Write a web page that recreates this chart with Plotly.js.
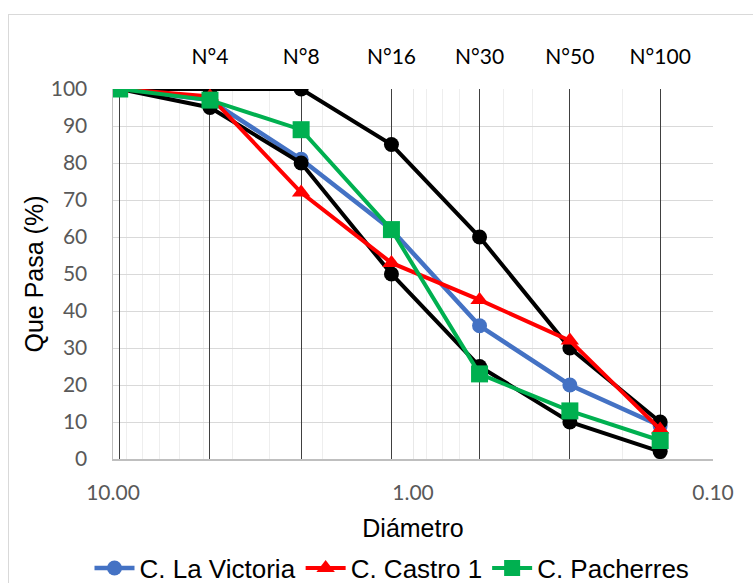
<!DOCTYPE html>
<html>
<head>
<meta charset="utf-8">
<script src="https://cdn.plot.ly/plotly-3.0.1.min.js"></script>
<style>
  html, body { margin: 0; padding: 0; background: #ffffff; }
  #wrap { position: relative; width: 753px; height: 583px; overflow: hidden; }
  #frame { position: absolute; left: 8px; top: 14px; width: 800px; height: 620px; border: 1px solid #d9d9d9; box-sizing: border-box; pointer-events: none; }
  #chart { position: absolute; left: 0; top: 0; width: 753px; height: 583px; }
</style>
</head>
<body>
<div id="wrap">
  <div id="chart"></div>
  <div id="frame"></div>
</div>
<script>
// Sieve openings (mm) and labels
var sieveSizes = [9.5, 4.75, 2.36, 1.18, 0.6, 0.3, 0.15];
var sieveLabels = ['', 'N°4', 'N°8', 'N°16', 'N°30', 'N°50', 'N°100'];

// Gradation limits (black curves)
var upperLimit = [100, 100, 100, 85, 60, 30, 10];
var lowerLimit = [100, 95, 80, 50, 25, 10, 2];

// Quarries
var laVictoria = [100, 97, 81, 62, 36, 20, 9];
var castro1 = [100, 98, 72, 53, 43, 32, 8];
var pacherres = [100, 97, 89, 62, 23, 13, 5];

// Bottom axis tick labels
var diamTicks = [10, 1, 0.1];
var diamTickText = diamTicks.map(function (v) { return v.toFixed(2); });

var minorVals = [];
[0.1, 1].forEach(function (d) { for (var k = 2; k <= 9; k++) minorVals.push(+(k * d).toFixed(3)); });

var traces = [
  {
    x: sieveSizes, y: laVictoria, name: 'C. La Victoria', type: 'scatter', mode: 'lines+markers',
    line: { color: '#4472C4', width: 4.5 },
    marker: { symbol: 'circle', size: 15, color: '#4472C4' }
  },
  {
    x: sieveSizes, y: upperLimit, name: 'Límite superior', type: 'scatter', mode: 'lines+markers',
    showlegend: false,
    line: { color: '#000000', width: 4 },
    marker: { symbol: 'circle', size: 15, color: '#000000' }
  },
  {
    x: sieveSizes, y: lowerLimit, name: 'Límite inferior', type: 'scatter', mode: 'lines+markers',
    showlegend: false,
    line: { color: '#000000', width: 4 },
    marker: { symbol: 'circle', size: 15, color: '#000000' }
  },
  {
    x: sieveSizes, y: castro1, name: 'C. Castro 1', type: 'scatter', mode: 'lines+markers',
    line: { color: '#FF0000', width: 4 },
    marker: { symbol: 'triangle-up', size: 16, color: '#FF0000' }
  },
  {
    x: sieveSizes, y: pacherres, name: 'C. Pacherres', type: 'scatter', mode: 'lines+markers',
    line: { color: '#00B050', width: 4 },
    marker: { symbol: 'square', size: 17, color: '#00B050' }
  },
  {
    // carries the top sieve axis
    x: sieveSizes, y: upperLimit, xaxis: 'x2', type: 'scatter', mode: 'lines',
    line: { width: 0 }, opacity: 0, showlegend: false, hoverinfo: 'skip'
  }
];

var layout = {
  width: 753, height: 583,
  margin: { l: 113, r: 40, t: 89, b: 124, autoexpand: false },
  paper_bgcolor: 'rgba(0,0,0,0)',
  plot_bgcolor: '#ffffff',
  showlegend: true,
  font: { family: 'Lato, "Liberation Sans", Arial, sans-serif', size: 20, color: '#595959' },
  xaxis: {
    type: 'log', autorange: false, range: [1, -1],
    tickvals: diamTicks, ticktext: diamTickText,
    ticks: '', ticklabelstandoff: 14,
    showgrid: true, gridcolor: '#e8e8e8', gridwidth: 1,
    minor: { tickvals: minorVals, showgrid: true, gridcolor: '#eeeeee', gridwidth: 1, ticks: '' },
    showline: true, linecolor: '#bfbfbf', linewidth: 1.5,
    zeroline: false,
    tickfont: { family: 'Lato, sans-serif', size: 21, color: '#595959' },
    title: { text: 'Diámetro', standoff: 17, font: { family: '"Liberation Sans", Arial, sans-serif', size: 25, color: '#000000' } }
  },
  xaxis2: {
    type: 'log', autorange: false, range: [1, -1],
    overlaying: 'x', side: 'top', anchor: 'y',
    tickmode: 'array', tickvals: sieveSizes, ticktext: sieveLabels,
    ticks: '', ticklabelstandoff: 20,
    showgrid: true, gridcolor: '#404040', gridwidth: 1,
    showline: false, zeroline: false,
    tickfont: { family: 'Lato, sans-serif', size: 21, color: '#000000' }
  },
  yaxis: {
    autorange: false, range: [0, 100], dtick: 10, tick0: 0,
    ticks: '', ticklabelstandoff: 20,
    showgrid: true, gridcolor: '#d9d9d9', gridwidth: 1,
    showline: true, linecolor: '#bfbfbf', linewidth: 1.5,
    zeroline: false,
    tickfont: { family: 'Lato, sans-serif', size: 21, color: '#595959' },
    title: { text: 'Que Pasa (%)', standoff: 0, font: { family: '"Liberation Sans", Arial, sans-serif', size: 25, color: '#000000' } }
  },
  legend: {
    orientation: 'h', x: 0.465, xanchor: 'center', y: -0.295, yanchor: 'middle',
    font: { family: '"Liberation Sans", Arial, sans-serif', size: 26, color: '#000000' },
    itemwidth: 40, tracegroupgap: 0, bgcolor: 'rgba(0,0,0,0)'
  }
};

Plotly.newPlot('chart', traces, layout, { displayModeBar: false, staticPlot: true });
</script>
</body>
</html>
